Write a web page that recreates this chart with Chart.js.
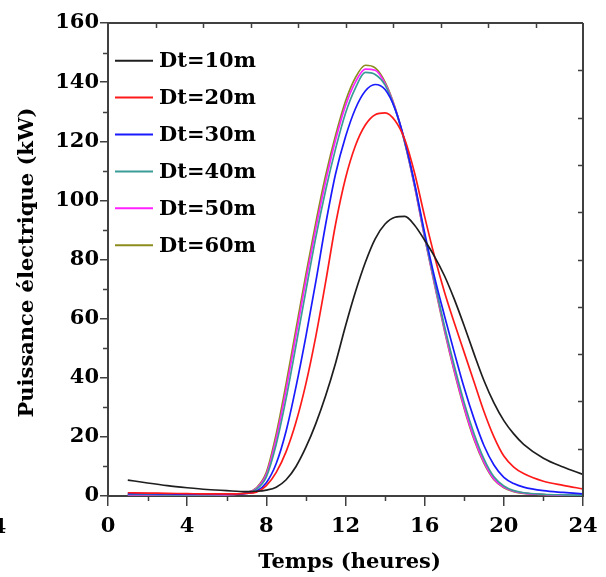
<!DOCTYPE html>
<html><head><meta charset="utf-8">
<script src="https://cdn.jsdelivr.net/npm/chart.js@4"></script>
<style>html,body{margin:0;padding:0;background:#fff;} canvas{display:block}</style>
</head><body>
<canvas id="c" width="606" height="577"></canvas>
<script>
// ---- data ----
const hours = [1,2,3,4,5,6,7,
  7.5,8,8.5,9,9.5,10,10.5,11,11.5,12,
  12.5,13,13.5,14,14.5,15,15.5,16,16.5,17,
  17.5,18,18.5,19,19.5,20,20.5,21,
  22,23,24];
const dt10 = [5.4,4.4,3.5,2.8,2.2,1.8,1.5, 1.6,2.0,3.0,5.5,10,16.5,24.5,34,45,57.5, 69,79,87,92,94.3,94.6,91.5,86.5,81,74.5, 66.5,57.5,48,39,31.5,25.5,21,17.5, 12.8,9.8,7.3];
const dt20 = [1.1,1.0,0.9,0.8,0.7,0.7,0.9, 1.3,3.5,8,15,25,38,54,72.5,92,107.5, 118.5,125.5,129,129.6,127,120.5,109,94.5,81,69, 58.5,48.5,38.5,28.5,20,13.5,9.8,7.6, 5,3.6,2.4];
const dt30 = [0.8,0.8,0.7,0.6,0.6,0.6,0.9, 1.6,4.5,11,22,37,54,72.5,92,109,121.5, 131,137,139.2,137.5,131,120,105.5,89,74,61, 48.5,36.5,26,17,10.5,6.3,4.2,3.0, 1.8,1.2,0.7];
const dt40 = [0.5,0.5,0.4,0.4,0.4,0.5,1.0, 2.3,6.5,17.5,33,51,69.5,87.5,103.5,117.5,129.5, 138,143.3,142.6,139,131,119.5,105,88,72.5,57.5, 44,31.5,21,12.5,6.5,3.4,1.8,1.1, 0.6,0.4,0.3];
const dt50 = [0.4,0.4,0.4,0.3,0.3,0.4,1.1, 2.6,7.3,19.5,36,54.5,73,90.5,106.5,120.5,132, 140,144.4,144,139.5,131.3,119.5,104.5,87.5,71.8,56.5, 42.5,30,19.5,11.5,5.8,3.0,1.6,1.0, 0.5,0.3,0.2];
const dt60 = [0.4,0.4,0.3,0.3,0.3,0.4,1.2, 2.8,8,21,38,56.5,75,92.5,108.5,122,133.5, 141.5,145.7,144.8,140,131.5,119.5,104.5,87.5,71.5,56, 42,29.5,19,11,5.5,2.8,1.5,0.9, 0.5,0.3,0.2];
const seriesLabels = ['Dt=10m','Dt=20m','Dt=30m','Dt=40m','Dt=50m','Dt=60m'];
const seriesValues = [dt10, dt20, dt30, dt40, dt50, dt60];
const seriesColors = ['#1e1e1e','#ff1a1a','#1a1aff','#3a9c96','#ff22ff','#8c8c1e'];
const xTickValues = [0,4,8,12,16,20,24];
const yTickValues = [0,20,40,60,80,100,120,140,160];
const xTitle = 'Temps (heures)';
const yTitle = 'Puissance électrique (kW)';
const strayLabel = '4';

const FONT_FAMILY = '"DejaVu Serif", serif';
const AX = '#404040';

const framePlugin = {
  id: 'frame',
  afterDraw(chart) {
    const ctx = chart.ctx, a = chart.chartArea;
    const xs = chart.scales.x, ys = chart.scales.y;
    ctx.save();
    ctx.strokeStyle = AX; ctx.lineWidth = 2; ctx.lineCap = 'butt';
    ctx.beginPath();
    ctx.moveTo(a.left - 1, a.top); ctx.lineTo(a.right, a.top);
    ctx.moveTo(a.right, a.top); ctx.lineTo(a.right, a.bottom + 1);
    ctx.stroke();
    ctx.lineWidth = 1.5;
    ctx.beginPath();
    for (let v = 2; v < 24; v += 4) {
      const px = Math.round(xs.getPixelForValue(v)) + 0.5;
      ctx.moveTo(px, a.bottom); ctx.lineTo(px, a.bottom + 5);
    }
    for (let v = 10; v < 160; v += 20) {
      const py = Math.round(ys.getPixelForValue(v)) + 0.5;
      ctx.moveTo(a.left - 5, py); ctx.lineTo(a.left, py);
    }
    for (let i = 1; i < 10; i++) {
      const px = Math.round(a.left + (a.right - a.left) * i / 10) + 0.5;
      ctx.moveTo(px, a.top); ctx.lineTo(px, a.top + 5);
      const py = Math.round(a.top + (a.bottom - a.top) * i / 10) + 0.5;
      ctx.moveTo(a.right - 5, py); ctx.lineTo(a.right, py);
    }
    ctx.stroke();
    // titles
    ctx.fillStyle = '#000';
    ctx.font = 'bold 21px ' + FONT_FAMILY;
    ctx.textAlign = 'center'; ctx.textBaseline = 'alphabetic';
    ctx.fillText(xTitle, (a.left + a.right) / 2 + 4, a.bottom + 72);
    ctx.save();
    ctx.translate(28, (a.top + a.bottom) / 2 + 3);
    ctx.rotate(-Math.PI / 2);
    ctx.textBaseline = 'middle';
    ctx.fillText(yTitle, 0, 0);
    ctx.restore();
    ctx.textBaseline = 'alphabetic';
    ctx.fillText(strayLabel, -1, a.bottom + 37);
    ctx.restore();
  }
};

const legendPlugin = {
  id: 'innerLegend',
  afterDatasetsDraw(chart) {
    const ctx = chart.ctx, a = chart.chartArea;
    ctx.save();
    ctx.font = 'bold 21px ' + FONT_FAMILY;
    ctx.textAlign = 'left'; ctx.textBaseline = 'middle';
    chart.data.datasets.forEach((ds, i) => {
      const y = a.top + 37.7 + i * 36.9;
      ctx.strokeStyle = ds.borderColor; ctx.lineWidth = 2;
      ctx.beginPath(); ctx.moveTo(a.left + 7, y); ctx.lineTo(a.left + 45, y); ctx.stroke();
      ctx.fillStyle = '#000';
      ctx.fillText(ds.label, a.left + 51, y + 1);
    });
    ctx.restore();
  }
};

const tickFont = { family: FONT_FAMILY, size: 21, weight: 'bold' };

new Chart(document.getElementById('c'), {
  type: 'line',
  data: {
    datasets: seriesValues.map((vals, i) => ({
      label: seriesLabels[i],
      data: hours.map((h, k) => ({ x: h, y: vals[k] })),
      borderColor: seriesColors[i],
      borderWidth: 1.7,
      pointRadius: 0,
      fill: false,
      cubicInterpolationMode: 'monotone'
    }))
  },
  options: {
    responsive: false,
    animation: false,
    devicePixelRatio: 1,
    layout: { padding: { top: 23, right: 23, left: 0, bottom: 0 } },
    plugins: { legend: { display: false }, tooltip: { enabled: false } },
    scales: {
      x: {
        type: 'linear', min: 0, max: 24,
        afterFit(s) { s.height = 81; },
        afterBuildTicks(s) { s.ticks = xTickValues.map(v => ({ value: v })); },
        ticks: { font: tickFont, color: '#000', padding: 8, maxRotation: 0, autoSkip: false },
        grid: { drawOnChartArea: false, tickLength: 10, color: AX, lineWidth: 1.5 },
        border: { color: AX, width: 2 }
      },
      y: {
        type: 'linear', min: 0, max: 160,
        afterFit(s) { s.width = 108; },
        afterBuildTicks(s) { s.ticks = yTickValues.map(v => ({ value: v })); },
        ticks: { font: tickFont, color: '#000', padding: 1, autoSkip: false },
        grid: { drawOnChartArea: false, tickLength: 8, color: AX, lineWidth: 1.5 },
        border: { color: AX, width: 2 }
      }
    }
  },
  plugins: [framePlugin, legendPlugin]
});
</script>
</body></html>
